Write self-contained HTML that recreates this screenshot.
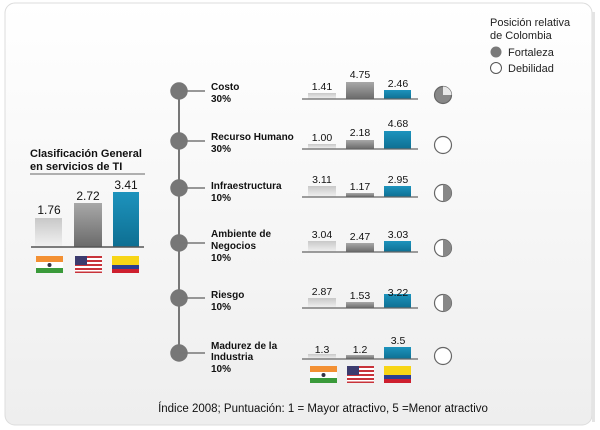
<!DOCTYPE html>
<html><head><meta charset="utf-8"><style>
html,body{margin:0;padding:0;background:#fff;}
svg{display:block;font-family:"Liberation Sans",Arial,sans-serif;}
</style></head><body>
<svg width="600" height="430" viewBox="0 0 600 430" xmlns="http://www.w3.org/2000/svg">
<defs>
<linearGradient id="bg" x1="0" y1="0" x2="0" y2="1"><stop offset="0" stop-color="#ffffff"/><stop offset="1" stop-color="#eeeeee"/></linearGradient>
<linearGradient id="gi" x1="0" y1="0" x2="0" y2="1"><stop offset="0" stop-color="#c8c8c8"/><stop offset="1" stop-color="#f2f2f2"/></linearGradient>
<linearGradient id="gu" x1="0" y1="0" x2="0" y2="1"><stop offset="0" stop-color="#a8a8a8"/><stop offset="1" stop-color="#6a6a6a"/></linearGradient>
<linearGradient id="gc" x1="0" y1="0" x2="0" y2="1"><stop offset="0" stop-color="#1d93bd"/><stop offset="1" stop-color="#0e6f92"/></linearGradient>
<g id="fin"><rect width="27" height="6" fill="#f39033"/><rect y="6" width="27" height="6" fill="#fff"/><rect y="12" width="27" height="5" fill="#3a9a3a"/><circle cx="13.5" cy="9" r="2" fill="#334"/></g>
<g id="fus"><rect width="27" height="17" fill="#fff"/><rect y="0" width="27" height="2" fill="#c8333a"/><rect y="4" width="27" height="2" fill="#c8333a"/><rect y="8" width="27" height="2" fill="#c8333a"/><rect y="12" width="27" height="2" fill="#c8333a"/><rect y="15.5" width="27" height="1.5" fill="#c8333a"/><rect width="12" height="9" fill="#3c3b6e"/></g>
<g id="fco"><rect width="27" height="9" fill="#f7d516"/><rect y="9" width="27" height="4" fill="#2a3e92"/><rect y="13" width="27" height="4" fill="#ce1f2e"/></g>
</defs>
<rect x="5" y="3" width="587" height="422" rx="10" fill="url(#bg)" stroke="#dcdcdc"/>
<rect x="592" y="12" width="3" height="410" fill="#e4e4e4"/>

<g font-size="11" fill="#222">
<text x="490" y="26">Posición relativa</text>
<text x="490" y="39">de Colombia</text>
<circle cx="496" cy="52" r="5.5" fill="#7a7a7a"/><text x="508" y="56">Fortaleza</text>
<circle cx="496" cy="68" r="5.5" fill="#fff" stroke="#555"/><text x="508" y="72">Debilidad</text>
</g>

<g font-size="11" font-weight="bold" fill="#111">
<text x="30" y="157">Clasificación General</text>
<text x="30" y="170">en servicios de TI</text>
</g>
<line x1="30" y1="174" x2="145" y2="174" stroke="#666" stroke-width="1"/>
<rect x="35" y="218" width="27" height="29" fill="url(#gi)"/>
<rect x="74" y="203" width="28" height="44" fill="url(#gu)"/>
<rect x="113" y="192" width="26" height="55" fill="url(#gc)"/>
<line x1="31" y1="247" x2="144" y2="247" stroke="#555" stroke-width="1.5"/>
<g font-size="12" fill="#111" text-anchor="middle">
<text x="49" y="214">1.76</text><text x="88" y="200">2.72</text><text x="126" y="189">3.41</text>
</g>
<use href="#fin" x="36" y="256"/><use href="#fus" x="75" y="256"/><use href="#fco" x="112" y="256"/>

<line x1="179" y1="91" x2="179" y2="353" stroke="#777" stroke-width="2"/>
<g fill="#777" stroke="#777" stroke-width="1.5">
<circle cx="179" cy="91" r="8"/><line x1="179" y1="91" x2="205" y2="91"/>
<circle cx="179" cy="141" r="8"/><line x1="179" y1="141" x2="205" y2="141"/>
<circle cx="179" cy="188" r="8"/><line x1="179" y1="188" x2="205" y2="188"/>
<circle cx="179" cy="243" r="8"/><line x1="179" y1="243" x2="205" y2="243"/>
<circle cx="179" cy="298" r="8"/><line x1="179" y1="298" x2="205" y2="298"/>
<circle cx="179" cy="353" r="8"/><line x1="179" y1="353" x2="205" y2="353"/>
</g>
<g font-size="10" font-weight="bold" fill="#111">
<text x="211" y="90">Costo</text><text x="211" y="102">30%</text>
<text x="211" y="140">Recurso Humano</text><text x="211" y="152">30%</text>
<text x="211" y="189">Infraestructura</text><text x="211" y="201">10%</text>
<text x="211" y="237">Ambiente de</text><text x="211" y="249">Negocios</text><text x="211" y="261">10%</text>
<text x="211" y="298">Riesgo</text><text x="211" y="310">10%</text>
<text x="211" y="349">Madurez de la</text><text x="211" y="360">Industria</text><text x="211" y="372">10%</text>
</g>

<g font-size="10.5" fill="#111" text-anchor="middle">
<rect x="308" y="93" width="28" height="6" fill="url(#gi)"/><rect x="346" y="82" width="28" height="17" fill="url(#gu)"/><rect x="384" y="90" width="27" height="9" fill="url(#gc)"/>
<line x1="302" y1="99" x2="418" y2="99" stroke="#666" stroke-width="1.2"/>
<text x="322" y="90">1.41</text><text x="360" y="78">4.75</text><text x="398" y="87">2.46</text>
<rect x="308" y="144" width="28" height="5" fill="url(#gi)"/><rect x="346" y="140" width="28" height="9" fill="url(#gu)"/><rect x="384" y="131" width="27" height="18" fill="url(#gc)"/>
<line x1="302" y1="149" x2="418" y2="149" stroke="#666" stroke-width="1.2"/>
<text x="322" y="141">1.00</text><text x="360" y="136">2.18</text><text x="398" y="127">4.68</text>
<rect x="308" y="186" width="28" height="11" fill="url(#gi)"/><rect x="346" y="193" width="28" height="4" fill="url(#gu)"/><rect x="384" y="186" width="27" height="11" fill="url(#gc)"/>
<line x1="302" y1="197" x2="418" y2="197" stroke="#666" stroke-width="1.2"/>
<text x="322" y="183">3.11</text><text x="360" y="190">1.17</text><text x="398" y="183">2.95</text>
<rect x="308" y="241" width="28" height="11" fill="url(#gi)"/><rect x="346" y="243" width="28" height="9" fill="url(#gu)"/><rect x="384" y="241" width="27" height="11" fill="url(#gc)"/>
<line x1="302" y1="252" x2="418" y2="252" stroke="#666" stroke-width="1.2"/>
<text x="322" y="238">3.04</text><text x="360" y="240">2.47</text><text x="398" y="238">3.03</text>
<rect x="308" y="298" width="28" height="10" fill="url(#gi)"/><rect x="346" y="302" width="28" height="6" fill="url(#gu)"/><rect x="384" y="294" width="27" height="14" fill="url(#gc)"/>
<line x1="302" y1="308" x2="418" y2="308" stroke="#666" stroke-width="1.2"/>
<text x="322" y="295">2.87</text><text x="360" y="299">1.53</text><text x="398" y="296">3.22</text>
<rect x="308" y="354" width="28" height="5" fill="url(#gi)"/><rect x="346" y="355" width="28" height="4" fill="url(#gu)"/><rect x="384" y="347" width="27" height="12" fill="url(#gc)"/>
<line x1="302" y1="359" x2="418" y2="359" stroke="#666" stroke-width="1.2"/>
<text x="322" y="353">1.3</text><text x="360" y="353">1.2</text><text x="398" y="344">3.5</text>
</g>
<use href="#fin" x="310" y="366"/><use href="#fus" x="347" y="366"/><use href="#fco" x="384" y="366"/>

<g stroke="#666" stroke-width="1.2">
<circle cx="443" cy="95" r="8.5" fill="#888"/><path d="M443 95 L443 86.5 A8.5 8.5 0 0 1 451.5 95 Z" fill="#e8e8e8" stroke="none"/>
<circle cx="443" cy="145" r="8.5" fill="#fff"/>
<circle cx="443" cy="193" r="8.5" fill="#fff"/><path d="M443 184.5 A8.5 8.5 0 0 1 443 201.5 Z" fill="#888" stroke="none"/>
<circle cx="443" cy="248" r="8.5" fill="#fff"/><path d="M443 239.5 A8.5 8.5 0 0 1 443 256.5 Z" fill="#888" stroke="none"/>
<circle cx="443" cy="303" r="8.5" fill="#fff"/><path d="M443 294.5 A8.5 8.5 0 0 1 443 311.5 Z" fill="#888" stroke="none"/>
<circle cx="443" cy="356" r="8.5" fill="#fff"/>
</g>

<text x="323" y="412" font-size="11.5" fill="#111" text-anchor="middle">Índice 2008; Puntuación: 1 = Mayor atractivo, 5 =Menor atractivo</text>
</svg>
</body></html>
